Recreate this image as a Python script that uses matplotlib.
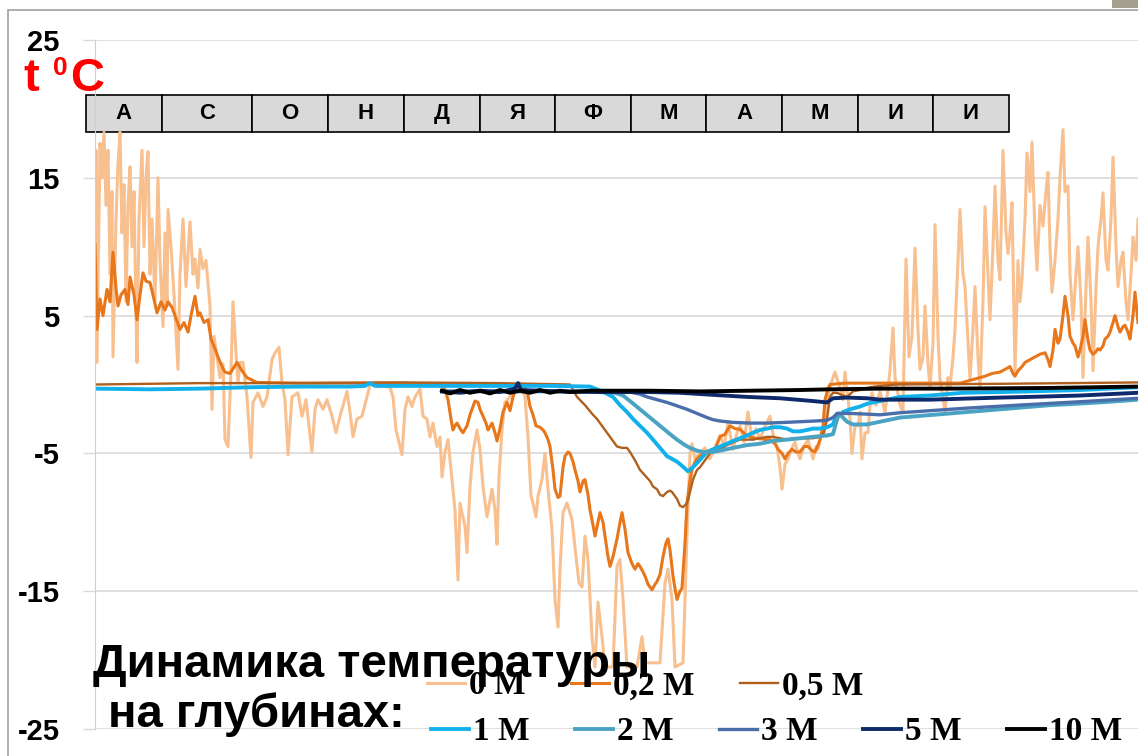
import numpy as np
import matplotlib
matplotlib.use("Agg")
import matplotlib.pyplot as plt
from matplotlib.patches import Rectangle

plt.rcParams['axes.unicode_minus'] = False

# months along the top band
months = ['А', 'С', 'О', 'Н', 'Д', 'Я', 'Ф', 'М', 'А', 'М', 'И', 'И']

depth_labels = ['0 М', '0,2 М', '0,5 М', '1 М', '2 М', '3 М', '5 М', '10 М']

# (day from start of record, temperature C)
t_0m = [
    (0.0, 10.0), (0.4, 17.0), (0.8, 1.6), (1.6, 12.0), (2.0, 17.5), (2.8, 15.0),
    (3.6, 18.3), (4.4, 13.0), (5.2, 17.0), (6.0, 8.0), (6.8, 14.0), (7.2, 2.0),
    (8.4, 12.0), (9.2, 16.0), (10.0, 18.3), (10.8, 11.0), (11.6, 14.5), (12.4, 6.0),
    (13.2, 13.0), (14.0, 15.8), (14.8, 10.0), (15.6, 14.0), (16.4, 5.0), (16.8, 1.6),
    (17.6, 12.0), (18.8, 17.0), (19.6, 10.0), (20.4, 15.0), (21.2, 16.9), (22.0, 8.0),
    (22.8, 12.0), (24.0, 6.0), (25.2, 15.0), (26.0, 9.0), (27.2, 4.2), (28.0, 11.0),
    (28.8, 5.7), (29.2, 12.7), (30.4, 10.0), (31.6, 6.5), (33.2, 1.1), (34.0, 8.0),
    (35.2, 12.0), (36.4, 7.1), (38.0, 11.8), (39.2, 8.0), (40.0, 9.1), (41.2, 7.0),
    (42.0, 9.8), (43.2, 8.4), (44.4, 9.0), (46.0, 5.7), (46.8, -1.8), (47.6, 3.5),
    (48.8, 2.0), (50.0, 0.5), (51.2, 1.5), (52.0, -4.0), (53.2, -4.5), (54.4, 1.0),
    (55.2, 6.0), (56.4, 2.3), (57.2, 0.1), (58.0, 1.6), (59.2, 1.6), (60.8, -0.9),
    (62.4, -5.3), (63.2, -1.3), (65.2, -0.6), (67.2, -1.6), (68.8, -0.9), (70.8, 1.8),
    (72.0, 2.3), (73.6, 2.7), (74.8, 0.1), (76.0, -1.1), (77.2, -5.1), (78.8, -0.9),
    (81.2, -0.6), (82.8, -2.3), (84.4, -1.1), (86.8, -4.9), (88.0, -1.8), (89.2, -1.1),
    (91.2, -1.8), (92.8, -1.1), (94.8, -2.3), (96.4, -3.5), (98.0, -2.3), (100.8, -0.5),
    (102.0, -2.0), (103.2, -3.8), (104.8, -2.5), (106.8, -2.3), (108.8, -0.9), (110.0, 0.0),
    (114.0, -0.1), (118.0, -0.2), (119.2, -0.9), (120.4, -3.3), (122.8, -5.1), (124.0, -1.8),
    (125.2, -0.9), (126.8, -1.6), (128.0, -0.9), (130.0, -0.35), (131.2, -2.3), (132.8, -2.5),
    (134.0, -3.8), (135.2, -2.8), (136.8, -4.5), (138.0, -3.8), (138.8, -6.7), (140.0, -4.9),
    (141.2, -4.0), (142.8, -6.9), (144.0, -9.1), (145.2, -14.2), (146.0, -8.6), (147.2, -9.6),
    (148.0, -10.3), (148.8, -12.2), (150.0, -7.4), (151.2, -4.9), (152.8, -3.3), (154.0, -4.7),
    (155.2, -7.4), (156.8, -9.6), (158.8, -7.6), (160.0, -9.1), (160.8, -11.6), (161.6, -6.7),
    (162.8, -3.3), (164.0, -1.3), (166.0, -0.9), (168.0, -0.35), (170.0, 0.1), (172.0, -0.9),
    (173.2, -3.8), (174.4, -8.1), (175.2, -8.6), (176.4, -9.6), (177.2, -8.1), (178.8, -6.9),
    (180.0, -5.0), (181.2, -7.6), (182.8, -10.5), (184.0, -15.6), (185.2, -17.6), (186.0, -13.4),
    (187.2, -9.3), (188.8, -8.6), (190.8, -9.8), (192.4, -12.5), (193.6, -14.4), (194.8, -14.7),
    (196.0, -11.0), (197.2, -12.7), (198.8, -18.3), (200.0, -20.5), (201.2, -15.8), (202.8, -18.3),
    (204.0, -20.5), (207.2, -20.5), (208.8, -13.2), (210.0, -12.7), (211.2, -15.6), (212.8, -20.5),
    (216.8, -20.5), (218.8, -18.3), (220.0, -20.2), (226.0, -20.2), (228.0, -14.4), (229.2, -13.4),
    (230.8, -15.6), (232.0, -20.5), (235.2, -20.2), (236.8, -11.0), (238.0, -5.0), (238.8, -4.3),
    (240.0, -5.4), (242.0, -5.0), (244.0, -4.6), (246.0, -5.4), (248.0, -4.6), (250.0, -3.7),
    (251.6, -4.5), (253.2, -2.8), (255.2, -4.7), (256.8, -3.5), (258.0, -3.0), (259.6, -4.2),
    (261.2, -2.0), (262.8, -4.0), (264.4, -3.2), (266.0, -4.0), (268.0, -3.0), (270.0, -2.3),
    (271.6, -4.0), (272.8, -4.5), (274.0, -6.0), (274.8, -7.6), (276.0, -5.8), (277.2, -5.4),
    (278.8, -4.6), (280.0, -4.2), (281.2, -5.0), (282.0, -5.4), (283.6, -4.5), (285.2, -4.0),
    (286.4, -4.8), (287.2, -5.4), (288.4, -4.5), (289.2, -4.7), (290.4, -3.8), (291.2, -3.5),
    (292.0, -2.5), (292.8, -1.3), (294.0, -0.2), (295.2, 0.5), (296.0, 0.9), (297.2, 0.2),
    (298.4, -0.5), (299.2, -1.1), (300.0, 0.9), (301.2, -1.0), (302.0, -2.5), (302.8, -5.0),
    (304.0, -3.0), (305.2, -3.0), (306.0, -2.0), (306.8, -5.4), (308.0, -3.5), (309.2, -3.5),
    (310.0, -1.5), (310.8, -0.6), (312.4, -1.5), (314.0, -0.5), (316.0, -2.0), (317.2, -0.3),
    (318.0, 1.0), (319.2, 4.1), (320.0, 0.5), (320.8, -0.3), (322.0, -1.5), (323.2, -2.0),
    (324.4, 9.1), (325.6, 2.0), (326.8, 3.5), (328.0, 9.9), (329.2, 4.0), (330.0, 1.1),
    (331.2, 2.0), (332.0, 5.7), (333.2, 1.5), (334.0, -0.2), (335.2, 3.0), (336.0, 11.6),
    (337.2, 3.5), (338.0, 0.4), (339.2, -1.0), (340.0, -2.0), (341.2, 0.5), (342.0, -0.2),
    (343.2, 2.0), (344.0, 4.0), (345.2, 9.0), (346.0, 12.7), (347.2, 8.0), (348.0, 7.1),
    (349.2, 3.0), (350.0, 0.4), (351.2, 4.0), (352.0, 7.1), (353.2, 2.0), (354.0, -0.2),
    (355.2, 6.0), (356.0, 12.9), (357.2, 8.0), (358.0, 4.7), (359.2, 10.0), (360.0, 14.4),
    (361.2, 9.0), (362.0, 7.6), (363.2, 17.0), (364.4, 11.0), (365.2, 9.5), (366.0, 11.0),
    (366.8, 13.2), (368.0, 0.9), (369.2, 9.0), (370.0, 6.0), (370.8, 7.6), (372.0, 12.0),
    (372.8, 16.8), (374.0, 14.0), (374.8, 17.6), (376.0, 11.0), (376.8, 8.3), (378.0, 13.0),
    (379.2, 11.5), (380.4, 14.0), (381.2, 15.4), (382.0, 10.0), (382.8, 6.7), (384.0, 9.0),
    (385.2, 12.0), (386.0, 15.0), (387.2, 18.5), (388.0, 14.0), (389.2, 14.4), (390.0, 8.0),
    (391.2, 4.7), (392.4, 8.0), (393.2, 10.0), (394.4, 6.0), (395.2, 0.5), (396.4, 7.0),
    (397.2, 10.7), (398.4, 6.0), (399.2, 1.0), (400.4, 7.0), (401.2, 10.0), (402.4, 12.0),
    (403.2, 13.9), (404.4, 9.0), (405.2, 8.3), (406.4, 12.0), (407.2, 16.5), (408.4, 10.0),
    (409.2, 7.1), (410.4, 9.0), (411.2, 9.6), (412.4, 6.0), (413.2, 4.7), (414.4, 8.0),
    (415.2, 10.7), (416.4, 9.0), (417.2, 12.0),
]

t_02m = [
    (0.0, 10.2), (0.8, 4.0), (2.0, 6.2), (3.2, 5.0), (4.8, 6.9), (6.0, 6.0), (7.2, 9.6),
    (8.4, 7.0), (9.2, 5.7), (10.4, 6.5), (12.0, 6.9), (13.2, 5.8), (14.0, 7.8), (15.6, 6.5),
    (16.8, 4.7), (18.0, 6.5), (19.2, 8.1), (20.4, 7.5), (22.0, 7.4), (23.2, 6.5), (24.8, 5.2),
    (26.4, 6.0), (28.0, 5.4), (29.2, 6.0), (30.8, 5.6), (32.4, 4.8), (34.0, 4.0), (35.6, 4.5),
    (37.2, 3.8), (38.4, 5.0), (40.0, 6.4), (41.2, 5.0), (42.0, 5.2), (43.6, 4.5), (45.2, 4.7),
    (46.4, 3.3), (48.0, 2.6), (49.2, 2.0), (50.8, 1.3), (52.0, 0.9), (54.0, 0.8), (56.8, 1.6),
    (58.8, 1.0), (60.8, 0.5), (64.8, 0.15), (82.0, 0.1), (102.0, 0.1), (122.0, 0.1),
    (138.8, 0.0), (140.0, -0.4), (141.2, -1.1), (142.4, -2.5), (143.2, -3.3), (144.0, -3.0),
    (144.8, -2.8), (146.0, -3.2), (147.2, -3.5), (148.8, -3.0), (150.0, -2.2), (150.8, -1.8),
    (152.0, -1.2), (153.2, -1.3), (154.0, -1.8), (155.2, -2.3), (156.4, -2.8), (157.2, -3.3),
    (158.8, -2.8), (160.0, -3.5), (160.8, -4.1), (162.0, -3.2), (163.2, -2.0), (164.8, -1.3),
    (166.0, -1.9), (167.2, -0.9), (168.4, -0.3), (170.0, -0.1), (172.0, -0.2), (173.2, -0.8),
    (174.0, -1.6), (175.2, -2.2), (176.4, -3.0), (178.0, -3.1), (179.2, -3.3), (180.0, -3.5),
    (181.2, -4.0), (182.0, -4.5), (183.2, -6.2), (184.0, -7.6), (185.2, -8.2), (186.0, -8.1),
    (187.2, -6.0), (188.0, -5.2), (189.2, -4.9), (190.0, -5.0), (191.2, -5.6), (192.0, -6.2),
    (193.2, -7.0), (194.0, -7.8), (195.2, -7.0), (196.0, -6.9), (197.2, -8.0), (198.0, -9.1),
    (199.2, -10.2), (200.0, -11.0), (201.2, -10.0), (202.0, -9.3), (203.2, -10.0), (204.0, -11.0),
    (205.2, -12.5), (206.0, -13.2), (207.2, -12.5), (208.8, -11.2), (210.0, -10.0), (210.8, -9.3),
    (212.0, -10.5), (213.2, -12.2), (214.8, -13.0), (216.0, -13.4), (217.2, -13.0), (218.0, -13.2),
    (219.2, -13.6), (220.0, -13.9), (221.2, -14.5), (222.8, -14.9), (224.0, -14.5), (224.8, -14.3),
    (226.0, -13.8), (227.2, -12.5), (228.4, -11.5), (229.2, -11.2), (230.0, -12.0), (231.2, -13.9),
    (232.0, -14.8), (232.8, -15.6), (234.0, -15.0), (234.8, -14.8), (236.0, -11.5), (236.8, -8.6),
    (238.0, -7.0), (238.8, -6.2), (240.0, -5.6), (240.8, -5.4), (242.0, -5.2), (244.0, -4.9),
    (246.0, -4.8), (248.0, -4.7), (250.0, -3.8), (252.0, -3.6), (254.0, -3.0), (256.0, -3.2),
    (258.0, -3.25), (260.0, -3.6), (262.0, -3.8), (264.0, -3.9), (266.0, -3.9), (268.0, -4.0),
    (270.0, -4.0), (272.0, -4.3), (273.2, -4.7), (274.8, -5.0), (276.0, -5.4), (277.2, -5.0),
    (278.8, -4.7), (280.4, -4.9), (282.0, -4.9), (283.6, -4.5), (285.2, -4.5), (286.8, -4.8),
    (288.0, -4.9), (289.2, -4.4), (290.0, -4.0), (291.2, -3.0), (292.0, -1.1), (293.2, -0.3),
    (294.0, 0.0), (300.0, 0.1), (322.0, 0.1), (346.0, 0.1), (348.0, 0.2), (352.0, 0.4),
    (356.0, 0.6), (358.8, 0.8), (362.0, 0.9), (364.0, 1.1), (366.0, 1.3), (367.2, 0.8),
    (368.0, 0.6), (369.2, 1.0), (370.8, 1.3), (372.0, 1.6), (374.0, 1.8), (376.0, 2.0),
    (378.0, 2.2), (380.0, 2.3), (381.2, 1.8), (382.0, 1.3), (383.2, 2.5), (384.0, 4.0),
    (385.2, 3.0), (386.0, 3.3), (387.2, 5.0), (388.0, 6.4), (389.2, 5.0), (390.0, 3.5),
    (391.2, 3.0), (392.0, 2.8), (393.2, 2.0), (394.0, 2.5), (395.2, 3.5), (396.0, 4.7),
    (397.2, 3.2), (398.0, 2.5), (399.2, 2.2), (400.0, 2.3), (401.2, 2.6), (402.0, 2.5),
    (403.2, 2.8), (404.0, 3.3), (405.2, 3.5), (406.0, 3.8), (407.2, 4.5), (408.0, 5.0),
    (409.2, 4.2), (410.0, 3.8), (411.2, 4.2), (412.0, 4.3), (413.2, 3.8), (414.0, 3.3),
    (415.2, 5.0), (416.0, 6.7), (417.2, 4.5),
]

t_05m = [
    (0.0, 0.0), (42.0, 0.1), (82.0, 0.1), (122.0, 0.15), (162.0, 0.1), (190.0, 0.0),
    (192.8, -0.9), (196.0, -1.5), (199.2, -2.2), (200.8, -2.5), (202.0, -2.8), (204.8, -3.5),
    (206.8, -4.0), (208.8, -4.5), (210.8, -4.6), (212.8, -4.6), (214.0, -4.9), (216.0, -5.5),
    (218.0, -6.2), (220.0, -6.6), (222.0, -7.0), (223.2, -7.4), (224.8, -7.6), (226.0, -8.0),
    (227.2, -8.1), (228.8, -7.8), (230.0, -7.7), (230.8, -7.8), (232.0, -8.1), (232.8, -8.3),
    (234.0, -8.8), (235.2, -8.9), (236.4, -8.7), (237.2, -8.4), (238.0, -7.8), (239.2, -6.9),
    (240.8, -6.2), (242.0, -6.0), (244.0, -5.5), (246.0, -5.0), (248.0, -4.8), (250.0, -4.7),
    (252.8, -4.4), (255.2, -4.2), (258.0, -4.0), (260.8, -4.0), (263.2, -4.0), (266.0, -3.9),
    (268.8, -3.8), (271.2, -3.8), (274.0, -3.9), (276.8, -4.0), (279.2, -3.9), (282.0, -3.9),
    (284.8, -3.9), (287.2, -3.9), (290.0, -3.8), (291.6, -3.5), (292.8, -2.5), (294.0, -0.9),
    (295.2, -0.6), (296.8, -0.6), (299.2, -0.8), (300.8, -0.9), (303.2, -0.5), (306.0, -0.4),
    (310.0, -0.2), (314.0, -0.1), (320.8, 0.0), (362.0, 0.05), (417.2, 0.15),
]

t_1m = [
    (0.0, -0.3), (22.0, -0.35), (42.0, -0.3), (62.0, -0.2), (82.0, -0.15), (102.0, -0.15),
    (108.0, -0.1), (110.0, 0.1), (112.0, -0.1), (130.0, -0.1), (142.0, -0.1), (162.0, -0.1),
    (182.0, -0.1), (198.0, -0.15), (200.8, -0.35), (204.0, -0.6), (207.2, -0.9), (210.0, -1.5),
    (212.8, -2.0), (215.2, -2.5), (218.0, -3.0), (220.8, -3.5), (223.2, -4.0), (226.0, -4.6),
    (228.8, -5.2), (230.8, -5.4), (232.8, -5.6), (234.8, -5.9), (237.2, -6.3), (239.2, -6.0),
    (240.8, -5.7), (242.8, -5.3), (244.8, -4.9), (247.2, -4.7), (250.0, -4.5), (252.8, -4.3),
    (255.2, -4.1), (258.0, -3.9), (260.8, -3.7), (263.2, -3.5), (266.0, -3.3), (268.8, -3.2),
    (271.2, -3.1), (274.0, -3.1), (276.8, -3.2), (279.2, -3.4), (282.0, -3.4), (284.8, -3.3),
    (287.2, -3.2), (290.0, -3.2), (292.8, -3.1), (295.2, -2.9), (296.4, -2.3), (298.0, -2.2),
    (299.2, -2.0), (302.0, -1.8), (306.0, -1.6), (308.8, -1.4), (311.2, -1.3), (314.0, -1.2),
    (316.8, -1.1), (322.0, -0.9), (334.0, -0.8), (347.2, -0.6), (362.0, -0.55), (374.0, -0.5),
    (394.0, -0.4), (417.2, -0.2),
]

t_2m = [
    (138.8, -0.5), (162.0, -0.5), (182.0, -0.5), (202.0, -0.55), (208.0, -0.6), (211.2, -0.8),
    (214.0, -1.2), (218.0, -1.8), (222.0, -2.4), (226.0, -3.0), (230.0, -3.6), (232.8, -4.0),
    (236.0, -4.4), (238.0, -4.6), (240.8, -4.8), (243.2, -4.9), (247.2, -4.9), (250.0, -4.8),
    (255.2, -4.6), (260.8, -4.4), (266.0, -4.3), (271.2, -4.1), (276.8, -4.0), (282.0, -3.9),
    (287.2, -3.8), (292.8, -3.7), (295.2, -3.6), (296.4, -2.8), (297.6, -2.1), (299.2, -2.4),
    (300.8, -2.7), (303.2, -2.9), (308.8, -2.9), (314.0, -2.7), (322.0, -2.4), (342.0, -2.1),
    (362.0, -1.8), (382.0, -1.5), (402.0, -1.3), (417.2, -1.1),
]

t_3m = [
    (138.8, -0.5), (202.0, -0.5), (214.0, -0.55), (218.0, -0.7), (220.8, -0.9), (224.8, -1.1),
    (228.8, -1.3), (232.8, -1.55), (236.8, -1.8), (240.8, -2.1), (244.8, -2.4), (247.2, -2.55),
    (250.0, -2.65), (255.2, -2.75), (262.0, -2.8), (268.8, -2.8), (276.0, -2.75), (282.0, -2.7),
    (288.0, -2.65), (292.8, -2.6), (295.2, -2.4), (296.8, -2.1), (302.0, -2.1), (308.8, -2.15),
    (314.0, -2.2), (322.0, -2.05), (334.0, -1.9), (350.0, -1.7), (374.0, -1.45), (394.0, -1.25),
    (417.2, -1.0),
]

t_5m = [
    (138.8, -0.5), (146.0, -0.6), (154.0, -0.45), (162.0, -0.55), (168.0, -0.3), (169.2, 0.1),
    (170.4, -0.4), (186.0, -0.5), (202.0, -0.55), (222.0, -0.55), (234.0, -0.6), (247.2, -0.75),
    (260.8, -0.9), (274.0, -1.0), (287.2, -1.2), (292.8, -1.3), (295.2, -1.0), (300.8, -0.95),
    (308.8, -1.0), (314.0, -1.1), (322.0, -1.1), (334.0, -1.1), (362.0, -0.95), (374.0, -0.9),
    (394.0, -0.8), (417.2, -0.6),
]

t_10m = [
    (138.8, -0.45), (142.0, -0.65), (146.0, -0.4), (150.0, -0.6), (154.0, -0.45), (158.0, -0.65),
    (162.0, -0.4), (166.0, -0.6), (170.0, -0.45), (174.0, -0.6), (178.0, -0.4), (182.0, -0.6),
    (186.0, -0.45), (190.0, -0.55), (198.0, -0.45), (210.0, -0.45), (222.0, -0.45), (242.0, -0.5),
    (262.0, -0.45), (282.0, -0.4), (294.0, -0.35), (314.0, -0.3), (342.0, -0.3), (382.0, -0.25),
    (417.2, -0.15),
]

series = [t_0m, t_02m, t_05m, t_1m, t_2m, t_3m, t_5m, t_10m]
colors = ['#f9c08f', '#e8761a', '#b0601c', '#13b1ec', '#4ba3c3', '#4a6ea9', '#0e2a6b', '#000000']
widths = [2.2, 2.2, 1.7, 2.8, 2.8, 2.4, 2.8, 2.8]

W, H = 1138, 756
fig = plt.figure(figsize=(W / 100, H / 100), dpi=100)
ax = fig.add_axes([95 / W, 27 / H, 1043 / W, 689 / H])

lines = []
for data, c, lw, lab in zip(series, colors, widths, depth_labels):
    d = np.array(data)
    ln, = ax.plot(d[:, 0], d[:, 1], color=c, lw=lw, label=lab, solid_joinstyle='round')
    lines.append(ln)

ax.set_xlim(0, 417.2)
ax.set_ylim(-25, 25)
ax.set_xticks([])
ax.set_yticks([-25, -15, -5, 5, 15, 25])
ax.set_yticklabels(['-25', '-15', '-5', '5', '15', '25'],
                   fontsize=21, fontweight='bold', family='Liberation Sans')
ax.tick_params(axis='y', length=8.5, width=1, color='#d9d9d9', pad=17)
ax.grid(axis='y', color='#d9d9d9', lw=1.2)
ax.set_axisbelow(True)
for s in ['top', 'right', 'bottom']:
    ax.spines[s].set_visible(False)
ax.spines['left'].set_color('#d0d0d0')

# month band
cell_w = [76, 90, 76, 76, 76, 75, 76, 75, 76, 76, 75, 76]
tbl = ax.table(cellText=[months], colWidths=cell_w, cellLoc='center',
               bbox=[-9 / 1043, 597 / 689, 923 / 1043, 37 / 689])
tbl.auto_set_font_size(False)
tbl.set_fontsize(16)
for cell in tbl.get_celld().values():
    cell.set_facecolor('#d9d9d9')
    cell.set_edgecolor('black')
    cell.set_linewidth(1.2)
    cell.get_text().set_fontweight('bold')
    cell.get_text().set_family('Liberation Sans')

# axis unit
red = dict(color='red', fontweight='bold', family='Liberation Sans', va='baseline')
fig.text(23 / W, 1 - 91 / H, 't', fontsize=34, **red)
fig.text(53 / W, 1 - 75 / H, '0', fontsize=19, **red)
fig.text(70 / W, 1 - 91 / H, 'C', fontsize=34, **red)

# legends
leg_font = {'family': 'Liberation Serif', 'weight': 'bold', 'size': 24}
leg_kw = dict(frameon=False, prop=leg_font, handlelength=1.15, handletextpad=0.12,
              columnspacing=1.35, borderpad=0, borderaxespad=0, loc='center left')
fig.legend(handles=lines[:3], ncol=3, bbox_to_anchor=(427 / W, 1 - 686 / H), **leg_kw)
fig.legend(handles=lines[3:], ncol=5, bbox_to_anchor=(431 / W, 1 - 732 / H), **leg_kw)

title_kw = dict(fontsize=34, fontweight='bold', family='Liberation Sans',
                va='baseline', zorder=10)
fig.text(93 / W, 1 - 677 / H, 'Динамика температуры', **title_kw)
fig.text(108 / W, 1 - 727 / H, 'на глубинах:', **title_kw)

# slide frame
fig.patches.append(Rectangle((8 / W, -0.1), 1.2, 1.1 - 9.5 / H, transform=fig.transFigure,
                             fill=False, edgecolor='#a0a0a0', lw=1.2))
fig.patches.append(Rectangle((1112 / W, 1 - 8 / H), 26 / W, 8 / H, transform=fig.transFigure,
                             facecolor='#a59f90', edgecolor='none'))

fig.savefig('out.png', dpi=100)
